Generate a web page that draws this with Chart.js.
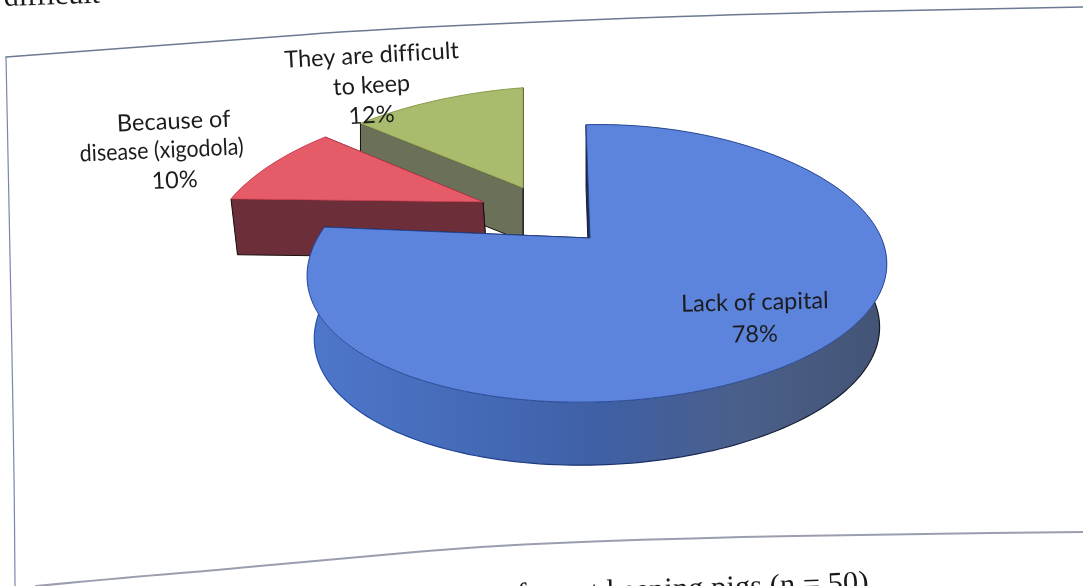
<!DOCTYPE html>
<html>
<head>
<meta charset="utf-8">
<title>Reasons for not keeping pigs</title>
<script src="https://cdn.jsdelivr.net/npm/chart.js@4"></script>
<style>
  html, body { margin: 0; padding: 0; background: #ffffff; overflow: hidden; }
  canvas { display: block; }
</style>
</head>
<body>
<canvas id="pie" width="1083" height="586"></canvas>
<script>
// Survey answers, percent of respondents (n = 50)
const categories = ["Lack of capital", "Because of disease (xigodola)", "They are difficult to keep"];
const shares = [78, 10, 12];
const shareLabels = ["78%", "10%", "12%"];
const labelLines = [["Lack of capital"], ["Because of", "disease (xigodola)"], ["They are difficult", "to keep"]];

// Surface colours for each slice
const topColors = ["#5c84dc", "#e55c68", "#a9bc6e"];
const edgeColors = ["#23408c", "#cf3f52", "#8b9b4c"];
const wallColors = ["#4a6cb8", "#6c2f3a", "#6b7159"];

// Projection of each exploded slice onto the page: apex, radii, perspective, shear, bow, thickness
const views = [
  { x: 590, y: 238, a: 285, b: 134, k: 0.183, shear: -0.025, lean: 0.035, bowX: 6, bowY: 7, taper: 0.025, slant: 0, depth: 63 },
  { x: 483, y: 202, a: 267, b: 122, k: 0.217, shear: -0.075, lean: 0, bowX: 0, bowY: 0, taper: 0.01, slant: 4, depth: 56 },
  { x: 523, y: 188, a: 275, b: 122, k: 0.217, shear: -0.075, lean: 0, bowX: 0, bowY: 0, taper: 0, slant: 0, depth: 53 }
];

// Text placement for the slice labels: centre of each line, baseline, angle in degrees, widest run
const labelPlacement = [
  { pos: [[755, 310], [755, 342]], angle: -1.4, fit: [150, 46] },
  { pos: [[174, 129], [162, 158], [175, 188]], angle: -2.5, fit: [116, 164, 46] },
  { pos: [[372, 63], [372, 93], [372, 123]], angle: -3.2, fit: [180, 80, 46] }
];

// Frame lines of the pasted chart and the fragments of body text around it
const frameTop = [[6, 57], [200, 43], [360, 30], [580, 20], [780, 13], [1083, 7]];
const frameLeft = [[6, 57], [9, 200], [14, 460], [15, 586]];
const frameBottom = [[36, 586], [120, 578], [207, 571], [345, 558], [497, 545], [690, 538], [898, 534], [1083, 532]];
const pageTextAbove = "difficult";
const pageTextBelow = "for not keeping pigs (n = 50)";

function project(v, ux, uy, z) {
  const w = 1 / (1 - v.k * uy);
  const px = v.a * ux * w * (1 - v.taper * z) + v.bowX * ux * ux;
  const py = v.b * uy * w + v.bowY * ux * ux;
  return [v.x + px + v.lean * py + z * v.slant, v.y + py + v.shear * px + z * v.depth];
}

function arcPoints(v, start, end, z) {
  const pts = [];
  const steps = Math.max(8, Math.ceil((end - start) * 40));
  for (let i = 0; i <= steps; i++) {
    const a = start + (end - start) * i / steps;
    pts.push(project(v, Math.cos(a), Math.sin(a), z));
  }
  return pts;
}

function tracePolygon(ctx, pts) {
  ctx.beginPath();
  pts.forEach((p, i) => i ? ctx.lineTo(p[0], p[1]) : ctx.moveTo(p[0], p[1]));
}

function smoothLine(ctx, pts) {
  ctx.beginPath();
  ctx.moveTo(pts[0][0], pts[0][1]);
  for (let i = 1; i < pts.length - 1; i++) {
    const mx = (pts[i][0] + pts[i + 1][0]) / 2;
    const my = (pts[i][1] + pts[i + 1][1]) / 2;
    ctx.quadraticCurveTo(pts[i][0], pts[i][1], mx, my);
  }
  const last = pts[pts.length - 1];
  ctx.lineTo(last[0], last[1]);
}

// Paints the page fragments and chart frame behind the pie
const pageBackdrop = {
  id: "pageBackdrop",
  beforeDatasetsDraw(chart) {
    const ctx = chart.ctx;
    ctx.save();
    ctx.lineCap = "round";
    ctx.strokeStyle = "#6d7a94"; ctx.lineWidth = 1.6;
    smoothLine(ctx, frameTop); ctx.stroke();
    ctx.strokeStyle = "#7a86b0"; ctx.lineWidth = 1.2;
    smoothLine(ctx, frameLeft); ctx.stroke();
    ctx.strokeStyle = "#9b9eae"; ctx.lineWidth = 2.2;
    smoothLine(ctx, frameBottom); ctx.stroke();

    ctx.fillStyle = "#1a1a1a";
    ctx.textAlign = "left";
    ctx.textBaseline = "alphabetic";
    ctx.font = "30px 'Liberation Serif'";
    ctx.save();
    ctx.translate(4, 6);
    ctx.rotate(-2 * Math.PI / 180);
    ctx.fillText(pageTextAbove, 0, 0);
    ctx.restore();
    ctx.font = "30.6px 'Liberation Serif'";
    ctx.save();
    ctx.translate(517, 604);
    ctx.rotate(-2 * Math.PI / 180);
    ctx.fillText(pageTextBelow, 0, 0);
    ctx.restore();
    ctx.restore();
  }
};

// Draws every arc of the pie as an extruded slice, using the angles the pie controller computed
const extrudedSlices = {
  id: "extrudedSlices",
  beforeDatasetDraw(chart) {
    const ctx = chart.ctx;
    const arcs = chart.getDatasetMeta(0).data;
    ctx.save();
    ctx.lineJoin = "round";
    // back slices first: green, red, then the large blue one in front
    [2, 1, 0].forEach(i => {
      const v = views[i];
      const start = arcs[i].startAngle;
      const end = arcs[i].endAngle;
      const rim = arcPoints(v, start, end, 0);
      const rimLow = arcPoints(v, start, end, 1);
      const apex = project(v, 0, 0, 0);
      const apexLow = project(v, 0, 0, 1);

      let wallFill = wallColors[i];
      if (i === 0) {
        const g = ctx.createLinearGradient(310, 0, 885, 0);
        g.addColorStop(0, "#4e77cb");
        g.addColorStop(0.3, "#4469b6");
        g.addColorStop(0.5, "#3f60a6");
        g.addColorStop(0.75, "#4a5f8a");
        g.addColorStop(1, "#435475");
        wallFill = g;
      }

      // curved outer wall
      tracePolygon(ctx, rim.concat(rimLow.slice().reverse()));
      ctx.closePath();
      ctx.fillStyle = wallFill;
      ctx.fill();
      tracePolygon(ctx, rimLow);
      if (i === 0) {
        const s = ctx.createLinearGradient(310, 0, 885, 0);
        s.addColorStop(0, "#2350b0");
        s.addColorStop(0.5, "#1c3570");
        s.addColorStop(1, "#14181f");
        ctx.strokeStyle = s;
      } else {
        ctx.strokeStyle = "#17110f";
      }
      ctx.lineWidth = 1.2;
      ctx.stroke();

      // flat cut walls, the one nearer the viewer last
      const cuts = [
        [rim[0], apex, apexLow, rimLow[0]],
        [rim[rim.length - 1], apex, apexLow, rimLow[rimLow.length - 1]]
      ].sort((p, q) => (p[0][1] + p[1][1]) - (q[0][1] + q[1][1]));
      cuts.forEach(q => {
        tracePolygon(ctx, q);
        ctx.closePath();
        ctx.fillStyle = i === 0 ? "#1f2c50" : wallColors[i];
        ctx.fill();
        ctx.strokeStyle = i === 0 ? "#141c33" : "#17110f";
        ctx.lineWidth = 1;
        ctx.stroke();
      });

      // top face
      tracePolygon(ctx, rim.concat([apex]));
      ctx.closePath();
      ctx.fillStyle = topColors[i];
      ctx.fill();
      ctx.strokeStyle = edgeColors[i];
      ctx.lineWidth = 0.9;
      ctx.stroke();
    });
    ctx.restore();
    return false;
  },
  afterDatasetsDraw(chart) {
    const ctx = chart.ctx;
    ctx.save();
    ctx.fillStyle = "#1c1c1c";
    ctx.font = "23.5px Lato";
    ctx.letterSpacing = "0.01px"; // keeps the "ff" pair as separate letters
    ctx.textAlign = "center";
    ctx.textBaseline = "alphabetic";
    labelPlacement.forEach((place, i) => {
      const lines = labelLines[i].concat([shareLabels[i]]);
      lines.forEach((line, j) => {
        ctx.save();
        ctx.translate(place.pos[j][0], place.pos[j][1]);
        ctx.rotate(place.angle * Math.PI / 180);
        ctx.fillText(line, 0, 0, place.fit[j]);
        ctx.restore();
      });
    });
    ctx.restore();
  }
};

new Chart(document.getElementById("pie"), {
  type: "pie",
  data: {
    labels: categories,
    datasets: [{ data: shares, backgroundColor: topColors, borderWidth: 0 }]
  },
  options: {
    responsive: false,
    animation: false,
    plugins: { legend: { display: false }, tooltip: { enabled: false }, title: { display: false } }
  },
  plugins: [pageBackdrop, extrudedSlices]
});
</script>
</body>
</html>
